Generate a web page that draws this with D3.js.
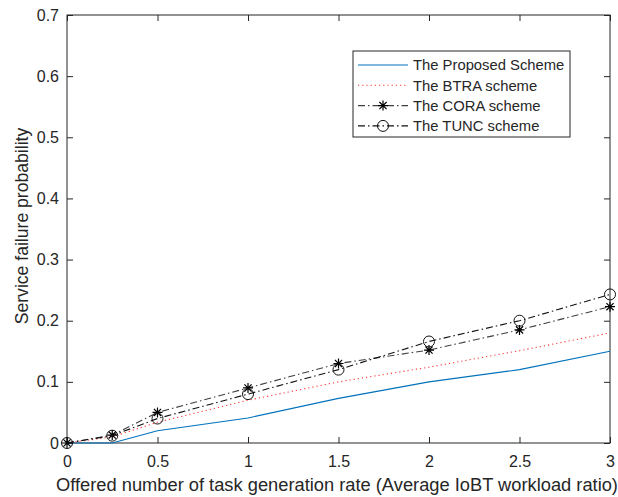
<!DOCTYPE html>
<html><head><meta charset="utf-8">
<script src="https://cdn.jsdelivr.net/npm/d3@7"></script>
<style>body{margin:0;background:#fff}svg{display:block}text{font-family:"Liberation Sans",Arial,sans-serif;fill:#262626}</style>
</head><body>
<svg id="c" width="618" height="497"></svg>
<script>
const xValues = [0, 0.25, 0.5, 1, 1.5, 2, 2.5, 3];
const proposed = [0, 0, 0.02, 0.041, 0.073, 0.1, 0.12, 0.15];
const btra = [0, 0.01, 0.034, 0.07, 0.1, 0.124, 0.151, 0.18];
const cora = [0, 0.013, 0.05, 0.09, 0.13, 0.152, 0.185, 0.223];
const tunc = [0, 0.012, 0.04, 0.08, 0.12, 0.166, 0.2, 0.243];
const seriesNames = ["The Proposed Scheme", "The BTRA scheme", "The CORA scheme", "The TUNC scheme"];
const xTicks = [0, 0.5, 1, 1.5, 2, 2.5, 3];
const yTicks = [0, 0.1, 0.2, 0.3, 0.4, 0.5, 0.6, 0.7];
const xLabel = "Offered number of task generation rate (Average IoBT workload ratio)";
const yLabel = "Service failure probability";

const svg = d3.select("#c");
const L = 67, R = 610, T = 15, B = 443;
const x = d3.scaleLinear().domain([0, 3]).range([L, R]);
const y = d3.scaleLinear().domain([0, 0.7]).range([B, T]);

const series = [
  {name: seriesNames[0], vals: proposed, color: "#0072BD", dash: null, marker: null, w: 1.1},
  {name: seriesNames[1], vals: btra, color: "#FF3333", dash: "1.2,3", marker: null, w: 1.1},
  {name: seriesNames[2], vals: cora, color: "#404040", dash: "7,3,1.5,3", marker: "star", w: 1.1},
  {name: seriesNames[3], vals: tunc, color: "#111", dash: "7,3,1.5,3", marker: "circle", w: 1.1}
];

const fmt = d => d3.format("")(d);
svg.append("g").attr("transform", `translate(0,${B})`)
  .call(d3.axisBottom(x).tickValues(xTicks).tickSize(-6).tickPadding(13).tickFormat(fmt))
  .call(g => { g.select(".domain").remove(); g.selectAll("text").attr("font-size", 16).attr("fill", "#262626"); g.selectAll("line").attr("stroke", "#262626"); });
svg.append("g").attr("transform", `translate(0,${T})`)
  .call(d3.axisTop(x).tickValues(xTicks).tickSize(-6).tickFormat(""))
  .call(g => { g.select(".domain").remove(); g.selectAll("line").attr("stroke", "#262626"); });
svg.append("g").attr("transform", `translate(${L},0)`)
  .call(d3.axisLeft(y).tickValues(yTicks).tickSize(-6).tickPadding(8).tickFormat(fmt))
  .call(g => { g.select(".domain").remove(); g.selectAll("text").attr("font-size", 16).attr("fill", "#262626"); g.selectAll("line").attr("stroke", "#262626"); });
svg.append("g").attr("transform", `translate(${R},0)`)
  .call(d3.axisRight(y).tickValues(yTicks).tickSize(-6).tickFormat(""))
  .call(g => { g.select(".domain").remove(); g.selectAll("line").attr("stroke", "#262626"); });
svg.append("rect").attr("x", L).attr("y", T).attr("width", R - L).attr("height", B - T)
  .attr("fill", "none").attr("stroke", "#262626").attr("stroke-width", 1);

const line = d3.line().x((d, i) => x(xValues[i])).y(d => y(d));
function drawMarker(g, type, cx, cy) {
  if (type === "circle") {
    g.append("circle").attr("cx", cx).attr("cy", cy).attr("r", 5.5).attr("fill", "none").attr("stroke", "#111").attr("stroke-width", 1);
  } else if (type === "star") {
    const s = 5;
    const p = `M${cx - s},${cy}L${cx + s},${cy}M${cx},${cy - s}L${cx},${cy + s}M${cx - s * 0.72},${cy - s * 0.72}L${cx + s * 0.72},${cy + s * 0.72}M${cx - s * 0.72},${cy + s * 0.72}L${cx + s * 0.72},${cy - s * 0.72}`;
    g.append("path").attr("d", p).attr("stroke", "#000").attr("stroke-width", 1.2).attr("fill", "none");
  }
}
series.forEach(s => {
  svg.append("path").datum(s.vals).attr("d", line).attr("fill", "none")
    .attr("stroke", s.color).attr("stroke-width", s.w).attr("stroke-dasharray", s.dash);
  if (s.marker) {
    const g = svg.append("g");
    s.vals.forEach((v, i) => drawMarker(g, s.marker, x(xValues[i]), y(v)));
  }
});

const lg = svg.append("g");
lg.append("rect").attr("x", 353).attr("y", 51).attr("width", 217).attr("height", 86)
  .attr("fill", "#fff").attr("stroke", "#262626").attr("stroke-width", 1);
series.forEach((s, i) => {
  const yy = 65 + i * 20.3;
  lg.append("line").attr("x1", 358).attr("x2", 408).attr("y1", yy).attr("y2", yy)
    .attr("stroke", s.color).attr("stroke-width", s.w).attr("stroke-dasharray", s.dash);
  if (s.marker) drawMarker(lg, s.marker, 383, yy);
  lg.append("text").attr("x", 413).attr("y", yy + 5.2).attr("font-size", 14.8).text(s.name);
});

svg.append("text").attr("x", 337).attr("y", 491).attr("text-anchor", "middle").attr("font-size", 18.3).text(xLabel);
svg.append("text").attr("transform", `translate(28,${(T + B) / 2 - 3}) rotate(-90)`).attr("text-anchor", "middle").attr("font-size", 17.6).text(yLabel);
</script>
</body></html>
